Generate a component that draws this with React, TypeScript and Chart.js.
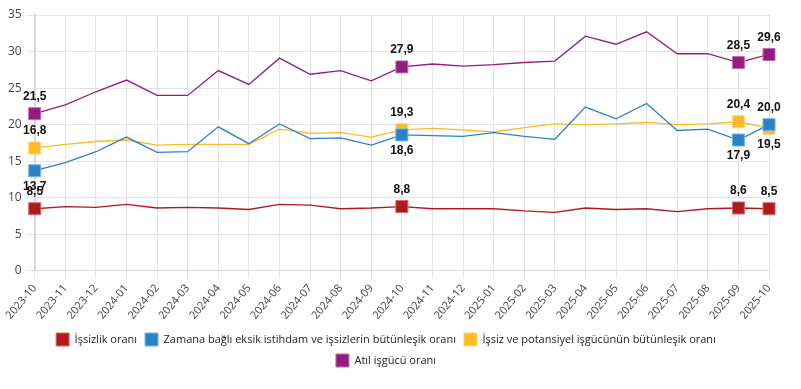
import React, { useEffect, useRef } from "react";
import { Chart, registerables } from "chart.js";

Chart.register(...registerables);

const categories = [
  "2023-10", "2023-11", "2023-12", "2024-01", "2024-02", "2024-03", "2024-04",
  "2024-05", "2024-06", "2024-07", "2024-08", "2024-09", "2024-10", "2024-11",
  "2024-12", "2025-01", "2025-02", "2025-03", "2025-04", "2025-05", "2025-06",
  "2025-07", "2025-08", "2025-09", "2025-10",
];

const issizlik = [8.5, 8.8, 8.7, 9.1, 8.6, 8.7, 8.6, 8.4, 9.1, 9.0, 8.5, 8.6, 8.8, 8.5, 8.5, 8.5, 8.2, 8.0, 8.6, 8.4, 8.5, 8.1, 8.5, 8.6, 8.5];
const zamana = [13.7, 14.8, 16.3, 18.3, 16.2, 16.3, 19.7, 17.4, 20.1, 18.1, 18.2, 17.2, 18.6, 18.5, 18.4, 18.9, 18.4, 18.0, 22.4, 20.8, 22.9, 19.2, 19.4, 17.9, 20.0];
const potansiyel = [16.8, 17.3, 17.7, 17.9, 17.2, 17.3, 17.3, 17.3, 19.4, 18.8, 18.9, 18.3, 19.3, 19.5, 19.3, 19.0, 19.6, 20.1, 20.0, 20.1, 20.3, 20.0, 20.1, 20.4, 19.5];
const atil = [21.5, 22.7, 24.5, 26.1, 24.0, 24.0, 27.4, 25.5, 29.1, 26.9, 27.4, 26.0, 27.9, 28.3, 28.0, 28.2, 28.5, 28.7, 32.1, 31.0, 32.7, 29.7, 29.7, 28.5, 29.6];

const seriesNames = [
  "İşsizlik oranı",
  "Zamana bağlı eksik istihdam ve işsizlerin bütünleşik oranı",
  "İşsiz ve potansiyel işgücünün bütünleşik oranı",
  "Atıl işgücü oranı",
];
const seriesColors = ["#b1191d", "#2a83c8", "#fcbb25", "#951b81"];
const seriesBorders = ["#d46a6d", "#7ab3df", "#fdd57a", "#c06fb2"];

const highlighted = [0, 12, 23, 24];
const yTicks = [0, 5, 10, 15, 20, 25, 30, 35];

const fmt = (v: number) => v.toFixed(1).replace(".", ",");

const labelPlugin = {
  id: "valueLabels",
  afterDatasetsDraw(chart: any) {
    const ctx = chart.ctx;
    ctx.save();
    ctx.font = "bold 12px 'Liberation Sans', Arial, sans-serif";
    ctx.fillStyle = "#111";
    ctx.textAlign = "center";
    ctx.textBaseline = "middle";
    const yScale = chart.scales.y;
    const xScale = chart.scales.x;
    highlighted.forEach((i) => {
      chart.data.datasets.forEach((ds: any, di: number) => {
        const v = ds.data[i];
        const x = xScale.getPixelForValue(i);
        const y = yScale.getPixelForValue(v);
        let below = false;
        if (di === 1) below = zamana[i] < potansiyel[i];
        if (di === 2) below = potansiyel[i] < zamana[i];
        ctx.fillText(fmt(v), x, below ? y + 16 : y - 17);
      });
    });
    ctx.restore();
  },
};

export default function App() {
  const ref = useRef<HTMLCanvasElement | null>(null);
  useEffect(() => {
    const allData = [issizlik, zamana, potansiyel, atil];
    const chart = new Chart(ref.current as HTMLCanvasElement, {
      type: "line",
      data: {
        labels: categories,
        datasets: allData.map((d, k) => ({
          label: seriesNames[k],
          data: d,
          borderColor: seriesColors[k],
          backgroundColor: seriesColors[k],
          borderWidth: 1.3,
          pointStyle: "rect",
          pointRadius: categories.map((_, i) => (highlighted.includes(i) ? 8.5 : 0)),
          pointHoverRadius: 0,
          pointBackgroundColor: seriesColors[k],
          pointBorderColor: seriesBorders[k],
          pointBorderWidth: 1,
          tension: 0,
          fill: false,
        })),
      },
      options: {
        animation: false,
        responsive: false,
        maintainAspectRatio: false,
        layout: { padding: { top: 15, right: 32, bottom: 12, left: 3 } },
        plugins: {
          legend: {
            position: "bottom",
            labels: {
              boxWidth: 13,
              boxHeight: 13,
              padding: 8,
              color: "#222",
              font: { family: "'Open Sans', sans-serif", size: 11 },
              generateLabels: (c: any) =>
                c.data.datasets.map((ds: any, k: number) => ({
                  text: ds.label,
                  fillStyle: seriesColors[k],
                  strokeStyle: seriesBorders[k],
                  lineWidth: 1,
                  hidden: false,
                  datasetIndex: k,
                  fontColor: "#222",
                })),
            },
          },
          tooltip: { enabled: false },
        },
        scales: {
          x: {
            grid: { color: "#e4e4e4", tickLength: 8 },
            border: { color: "#d9d9d9", width: 1 },
            ticks: {
              color: "#444",
              font: { family: "'Open Sans', sans-serif", size: 11 },
              maxRotation: 50,
              minRotation: 50,
              autoSkip: false,
            },
          },
          y: {
            min: 0,
            max: 35,
            grid: { color: "#e4e4e4", tickLength: 8 },
            border: { color: "#d9d9d9", width: 2 },
            afterBuildTicks: (axis: any) => {
              axis.ticks = yTicks.map((v) => ({ value: v }));
            },
            ticks: {
              color: "#444",
              font: { family: "'Open Sans', sans-serif", size: 12 },
              padding: 5,
            },
          },
        },
      },
      plugins: [labelPlugin],
    });
    return () => chart.destroy();
  }, []);
  return (
    <div style={{ position: "absolute", left: 0, top: 0, width: 801, height: 389 }}>
      <canvas ref={ref} width={801} height={389} style={{ width: 801, height: 389 }} />
    </div>
  );
}
